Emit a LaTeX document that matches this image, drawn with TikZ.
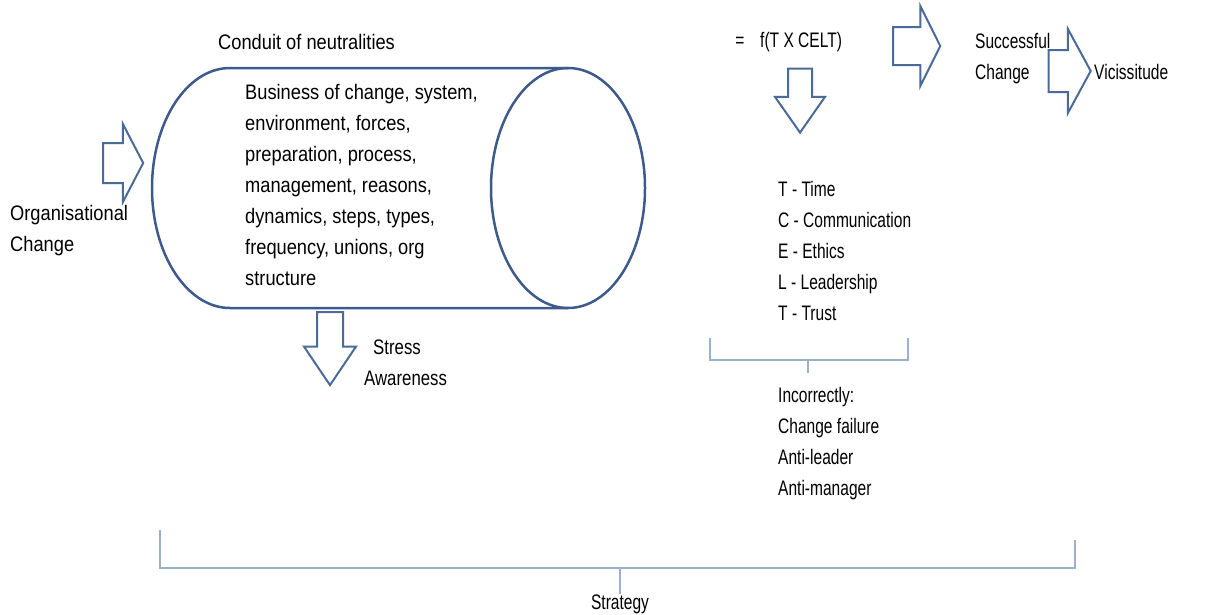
\documentclass[tikz,border=0pt]{standalone}
\usepackage{fontspec}
\setmainfont[FakeStretch=0.87]{Liberation Sans}
\newfontfamily\slimfont[FakeStretch=0.74]{Liberation Sans}
\newfontfamily\midfont[FakeStretch=0.80]{Liberation Sans}
\usetikzlibrary{shapes.arrows}

\definecolor{tubeblue}{HTML}{3D5A8C}
\definecolor{arrowblue}{HTML}{4A6A98}
\definecolor{braceblue}{HTML}{9BB0CC}

\tikzset{
  txt/.style={inner sep=0pt, font=\fontsize{21}{31}\selectfont},
  slimtxt/.style={inner sep=0pt, font=\slimfont\fontsize{21}{31}\selectfont},
  midtxt/.style={inner sep=0pt, font=\midfont\fontsize{21}{31}\selectfont},
  bigarrow/.style={single arrow, draw=arrowblue, line width=2pt, inner xsep=0pt},
  tube/.style={draw=tubeblue, line width=2.5pt},
  brace/.style={draw=braceblue, line width=1.2pt}
}

\begin{document}
\begin{tikzpicture}[x=1pt, y=-1pt]
    \useasboundingbox (0,0) rectangle (1220,614);

    % Cylinder
    \draw[tube] (568,68) -- (230,68) arc[start angle=270, end angle=90, x radius=78, y radius=120] -- (568,308);
    \draw[tube] (568,188) ellipse[x radius=77, y radius=120];

    % Texts of the cylinder
    \node[txt, anchor=west] (conduit) at (218,42) {Conduit of neutralities};
    \node[txt, anchor=north west, align=left] (topics) at (245,84) {Business of change, system,\\environment, forces,\\preparation, process,\\management, reasons,\\dynamics, steps, types,\\frequency, unions, org\\structure};

    % Input
    \node[bigarrow, inner ysep=19pt, minimum height=40pt, single arrow head extend=19pt, single arrow tip angle=125] (inarrow) at (118,163) {};
    \node[txt, anchor=north west, align=left] (orgchange) at (10,205) {Organisational\\Change};

    % Stress
    \node[bigarrow, rotate=-90, inner ysep=12pt, minimum height=73pt, single arrow head extend=13pt, single arrow tip angle=68] (stressarrow) at (330,339) {};
    \node[midtxt, anchor=north west, align=left] (stress) at (364,340) {\hspace*{9pt}Stress\\Awareness};

    % Function
    \node[slimtxt] (equals) at (740,42) {=};
    \node[slimtxt, anchor=west] (func) at (760,42) {f(T X CELT)};
    \node[bigarrow, inner ysep=18pt, minimum height=47pt, single arrow head extend=21pt, single arrow tip angle=127] (funcarrow) at (912,46) {};
    \node[bigarrow, rotate=-90, inner ysep=11pt, minimum height=64pt, single arrow head extend=13pt, single arrow tip angle=70] (downarrow) at (800,92) {};

    % Outcome
    \node[slimtxt, anchor=north west, align=left] (success) at (975,33) {Successful\\Change};
    \node[bigarrow, inner ysep=20pt, minimum height=42pt, single arrow head extend=21pt, single arrow tip angle=123] (succarrow) at (1064,71) {};
    \node[slimtxt, anchor=west] (vicissitude) at (1094,72) {Vicissitude};

    % CELT list
    \node[slimtxt, anchor=north west, align=left] (celt) at (778,181) {T - Time\\C - Communication\\E - Ethics\\L - Leadership\\T - Trust};
    \draw[brace] (710,338) -- (710,360) -- (908,360) -- (908,338);
    \draw[brace] (808,360) -- (808,373);
    \node[slimtxt, anchor=north west, align=left] (failure) at (778,387) {Incorrectly:\\Change failure\\Anti-leader\\Anti-manager};

    % Strategy
    \draw[brace] (160,530) -- (160,568) -- (1075,568) -- (1075,540);
    \node[slimtxt] (strategy) at (620,604) {Strategy};
    \draw[brace] (620,568) -- (strategy.north);
\end{tikzpicture}
\end{document}
